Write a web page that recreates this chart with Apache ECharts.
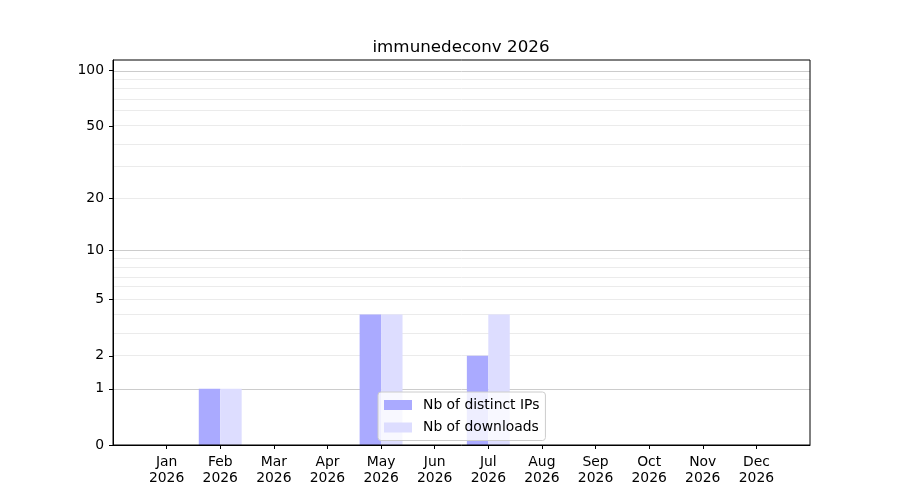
<!DOCTYPE html>
<html>
<head>
<meta charset="utf-8">
<script src="https://cdn.jsdelivr.net/npm/echarts@6/dist/echarts.min.js"></script>
<style>
  html, body { margin: 0; padding: 0; background: #fff; }
  #chart { width: 900px; height: 500px; }
</style>
</head>
<body>
<div id="chart"></div>
<script>
// chart data
const months = ["Jan","Feb","Mar","Apr","May","Jun","Jul","Aug","Sep","Oct","Nov","Dec"];
const year = "2026";
const ips = [0, 1, 0, 0, 4, 0, 2, 0, 0, 0, 0, 0];
const downloads = [0, 1, 0, 0, 4, 0, 4, 0, 0, 0, 0, 0];
const yTicks = [0, 1, 2, 5, 10, 20, 50, 100];
const majorGrid = [1, 10, 100];
const minorGrid = [2, 3, 4, 5, 6, 7, 8, 9, 20, 30, 40, 50, 60, 70, 80, 90];
const yMax = 114;

// y axis is log(1 + y)
const tf = v => Math.log10(1 + v);

// one empty slot each side so the months sit one step in from the frame
const cats = [""].concat(months.map(m => m + "\n" + year), [""]);
const pad = arr => [null].concat(arr.map(tf), [null]);

const font = "DejaVu Sans";

const gridLines = majorGrid.map(v => ({
    yAxis: tf(v),
    lineStyle: { color: "#cccccc", width: 1, type: "solid" }
})).concat(minorGrid.map(v => ({
    yAxis: tf(v),
    lineStyle: { color: "#ebebeb", width: 1, type: "solid" }
})));

const chart = echarts.init(document.getElementById("chart"));

chart.setOption({
    animation: false,
    title: {
        text: "immunedeconv " + year,
        left: 456,
        top: 34,
        textAlign: "center",
        textStyle: { fontFamily: font, fontSize: 16.7, fontWeight: "normal", color: "#000" }
    },
    legend: {
        orient: "vertical",
        left: 378,
        top: 392,
        icon: "rect",
        itemWidth: 28,
        itemHeight: 10,
        itemGap: 8.5,
        padding: [6, 6, 6, 6],
        backgroundColor: "rgba(255,255,255,0.8)",
        borderColor: "#cccccc",
        borderWidth: 1,
        borderRadius: 3,
        textStyle: { fontFamily: font, fontSize: 13.9, color: "#000", padding: [0, 0, 0, 6] },
        data: ["Nb of distinct IPs", "Nb of downloads"]
    },
    grid: {
        left: 113, right: 90, top: 60, bottom: 55,
        z: 3,
        show: true, borderColor: "#000", borderWidth: 1
    },
    xAxis: {
        type: "category",
        data: cats,
        z: 3,
        boundaryGap: false,
        axisLine: { lineStyle: { color: "#000", width: 1 } },
        axisTick: {
            interval: i => i > 0 && i < cats.length - 1,
            length: 4,
            lineStyle: { color: "#000" }
        },
        axisLabel: {
            interval: 0,
            margin: 9,
            color: "#000",
            fontFamily: font,
            fontSize: 13.9,
            lineHeight: 16
        },
        splitLine: { show: false }
    },
    yAxis: {
        type: "value",
        min: 0,
        max: tf(yMax),
        z: 3,
        axisLine: { show: true, lineStyle: { color: "#000", width: 1 } },
        axisTick: {
            show: true,
            length: 4,
            customValues: yTicks.map(tf),
            lineStyle: { color: "#000" }
        },
        axisLabel: {
            customValues: yTicks.map(tf),
            formatter: v => String(Math.round(Math.pow(10, v) - 1)),
            margin: 9,
            padding: [3, 0, 0, 0],
            color: "#000",
            fontFamily: font,
            fontSize: 13.9
        },
        splitLine: { show: false }
    },
    series: [
        {
            name: "Nb of distinct IPs",
            type: "bar",
            data: pad(ips),
            barWidth: "40%",
            barGap: "0%",
            itemStyle: { color: "#aaaaff" },
            markLine: {
                silent: true,
                z: 1,
                symbol: ["none", "none"],
                label: { show: false },
                data: gridLines
            }
        },
        {
            name: "Nb of downloads",
            type: "bar",
            data: pad(downloads),
            barWidth: "40%",
            barGap: "0%",
            itemStyle: { color: "#ddddff" }
        }
    ]
});
</script>
</body>
</html>
